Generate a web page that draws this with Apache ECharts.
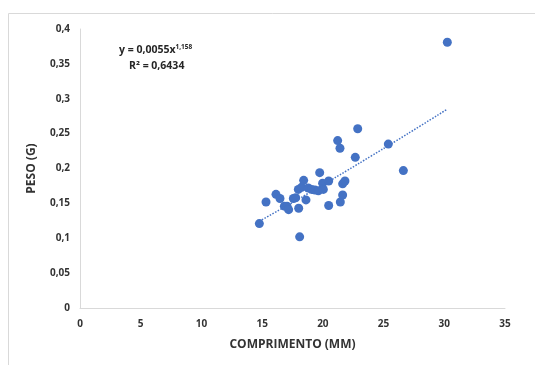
<!DOCTYPE html>
<html>
<head>
<meta charset="utf-8">
<script src="https://cdn.jsdelivr.net/npm/echarts@6/dist/echarts.min.js"></script>
<style>
  html, body { margin: 0; padding: 0; background: #fff; }
  #chart { width: 535px; height: 365px; }
</style>
</head>
<body>
<div id="chart"></div>
<script>
// comprimento (mm) e peso (g) de cada exemplar
var comprimento = [14.77, 15.32, 16.14, 16.47, 16.83, 17.05, 17.18, 17.57, 17.76, 18.01,
    18.09, 17.98, 18.25, 18.42, 18.61, 18.80, 19.08, 19.35, 19.63, 19.74,
    19.98, 20.04, 20.48, 20.48, 21.22, 21.41, 21.44, 21.63, 21.63, 21.82,
    22.67, 22.87, 25.39, 26.63, 30.25];
var peso = [0.121, 0.152, 0.163, 0.157, 0.146, 0.146, 0.141, 0.157, 0.158, 0.143,
    0.102, 0.170, 0.173, 0.183, 0.155, 0.172, 0.170, 0.169, 0.168, 0.194,
    0.179, 0.170, 0.182, 0.147, 0.240, 0.229, 0.152, 0.162, 0.178, 0.182,
    0.216, 0.257, 0.235, 0.197, 0.381];

// linha de tendência (potência): y = 0,0055x^1,158
var coefA = 0.0055;
var coefB = 1.158;
var trendX = [14.77, 16, 18, 20, 22, 24, 26, 28, 30.25];

var xTicks = [0, 5, 10, 15, 20, 25, 30, 35];
var yTicks = [0, 0.05, 0.1, 0.15, 0.2, 0.25, 0.3, 0.35, 0.4];

var chart = echarts.init(document.getElementById('chart'));

var pontos = [];
for (var i = 0; i < comprimento.length; i++) {
    pontos.push([comprimento[i], peso[i]]);
}
var tendencia = [];
for (var j = 0; j < trendX.length; j++) {
    tendencia.push([trendX[j], coefA * Math.pow(trendX[j], coefB)]);
}

var fonte = '"Open Sans", Lato, sans-serif';
var corTexto = '#333333';

var option = {
    animation: false,
    textStyle: { fontFamily: fonte },
    grid: { left: 80, right: 30, top: 29, bottom: 57, containLabel: false },
    graphic: [
        {
            type: 'rect',
            shape: { x: 8.5, y: 13.5, width: 540, height: 360 },
            style: { fill: 'none', stroke: '#d9d9d9', lineWidth: 1 }
        },
        {
            type: 'text',
            left: 119, top: 44,
            style: {
                text: '{b|y = 0,0055x}{s|1,158}',
                rich: {
                    b: { fontSize: 10.5, fontWeight: 'bold', fontFamily: fonte, fill: '#262626' },
                    s: { fontSize: 6.5, fontWeight: 'bold', fontFamily: fonte, fill: '#262626', verticalAlign: 'top', padding: [0, 0, 6, 0] }
                }
            }
        },
        {
            type: 'text',
            left: 129, top: 61,
            style: {
                text: 'R² = 0,6434',
                fontSize: 10.5, fontWeight: 'bold', fontFamily: fonte, fill: '#262626'
            }
        }
    ],
    xAxis: {
        type: 'value',
        min: xTicks[0],
        max: xTicks[xTicks.length - 1],
        interval: 5,
        name: 'COMPRIMENTO (MM)',
        nameLocation: 'middle',
        nameGap: 31,
        nameTextStyle: { color: corTexto, fontSize: 12, fontWeight: 'bold', fontFamily: fonte },
        axisLine: { lineStyle: { color: '#d9d9d9', width: 1 } },
        axisTick: { show: false },
        splitLine: { show: false },
        axisLabel: { color: corTexto, fontSize: 10, fontWeight: 'bold', margin: 11 }
    },
    yAxis: {
        type: 'value',
        min: yTicks[0],
        max: yTicks[yTicks.length - 1],
        interval: 0.05,
        name: 'PESO (G)',
        nameLocation: 'middle',
        nameGap: 42,
        nameTextStyle: { color: corTexto, fontSize: 12, fontWeight: 'bold', fontFamily: fonte },
        axisLine: { show: true, lineStyle: { color: '#d9d9d9', width: 1 } },
        axisTick: { show: false },
        splitLine: { show: false },
        axisLabel: {
            color: corTexto, fontSize: 10, fontWeight: 'bold', margin: 10,
            formatter: function (v) { return String(+v.toFixed(2)).replace('.', ','); }
        }
    },
    series: [
        {
            name: 'Tendência',
            type: 'line',
            data: tendencia,
            smooth: true,
            symbol: 'none',
            z: 3,
            lineStyle: { color: '#4472C4', width: 1.5, type: [1.5, 1.5] }
        },
        {
            name: 'Peso',
            type: 'scatter',
            data: pontos,
            symbolSize: 9,
            z: 2,
            itemStyle: { color: '#4472C4', opacity: 1 }
        }
    ]
};
chart.setOption(option);

window.onresize = function () {
    chart.resize();
};
</script>
</body>
</html>
